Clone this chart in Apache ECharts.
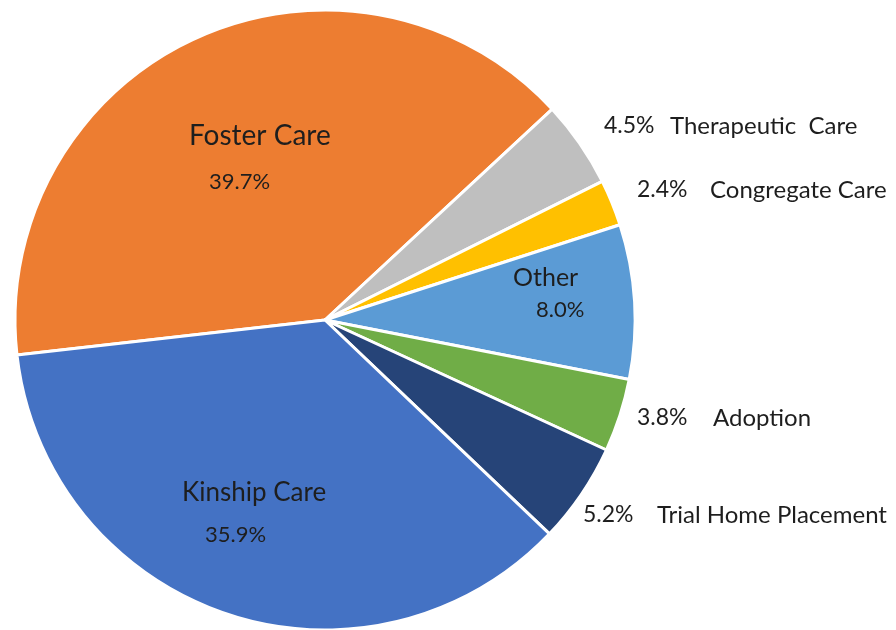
<!DOCTYPE html>
<html>
<head>
<meta charset="utf-8">
<script src="https://cdn.jsdelivr.net/npm/echarts@6/dist/echarts.min.js"></script>
<style>html,body{margin:0;padding:0;background:#fff}#c{width:896px;height:630px}</style>
</head>
<body>
<div id="c"></div>
<script>
const categories = ['Foster Care', 'Therapeutic  Care', 'Congregate Care', 'Other', 'Adoption', 'Trial Home Placement', 'Kinship Care'];
const values = [39.7, 4.5, 2.4, 8.0, 3.8, 5.2, 35.9];
const colors = ['#ED7D31', '#BFBFBF', '#FFC000', '#5B9BD5', '#70AD47', '#264478', '#4472C4'];

// label placement (style, not data)
const labelLayoutCfg = [
  { inside: true, x: 189, nameY: 136, pctY: 182, pctDx: 20, nameSize: 28 },
  { inside: false, x: 604, y: 126, nameDx: 66 },
  { inside: false, x: 637, y: 190, nameDx: 73 },
  { inside: true, x: 513, nameY: 278, pctY: 310, pctDx: 23, nameSize: 25 },
  { inside: false, x: 637, y: 418, nameDx: 76 },
  { inside: false, x: 583, y: 515, nameDx: 74 },
  { inside: true, x: 182, nameY: 493, pctY: 535, pctDx: 23, nameSize: 26 }
];

const FONT = 'Lato';
const TXT = '#1e1e1e';

const data = categories.map((name, i) => {
  const L = labelLayoutCfg[i];
  const pct = values[i].toFixed(1) + '%';
  let label;
  if (L.inside) {
    const gap = L.pctY - L.nameY;
    label = {
      formatter: '{n|' + name + '}\n{p|' + pct + '}',
      rich: {
        n: { fontFamily: FONT, fontSize: L.nameSize, color: TXT, lineHeight: gap, align: 'left' },
        p: { fontFamily: FONT, fontSize: 22, color: TXT, lineHeight: gap, align: 'left', padding: [0, 0, 0, L.pctDx] }
      }
    };
  } else {
    label = {
      formatter: '{p|' + pct + '}{n|' + name + '}',
      rich: {
        p: { fontFamily: FONT, fontSize: 23, color: TXT, width: L.nameDx },
        n: { fontFamily: FONT, fontSize: 24, color: TXT }
      }
    };
  }
  return { name, value: values[i], itemStyle: { color: colors[i] }, label };
});

const chart = echarts.init(document.getElementById('c'));
chart.setOption({
  animation: false,
  backgroundColor: '#ffffff',
  series: [{
    type: 'pie',
    center: [325, 320],
    radius: [0, 310],
    startAngle: 186.5,
    clockwise: true,
    data: data,
    itemStyle: { borderColor: '#ffffff', borderWidth: 3 },
    label: { show: true, position: 'inside', fontFamily: FONT, color: TXT },
    labelLine: { show: false },
    emphasis: { disabled: true },
    labelLayout: function (params) {
      const L = labelLayoutCfg[params.dataIndex];
      if (L.inside) {
        return { x: L.x, y: (L.nameY + L.pctY) / 2, align: 'left', verticalAlign: 'middle' };
      }
      return { x: L.x, y: L.y, align: 'left', verticalAlign: 'middle' };
    }
  }]
});
</script>
</body>
</html>
